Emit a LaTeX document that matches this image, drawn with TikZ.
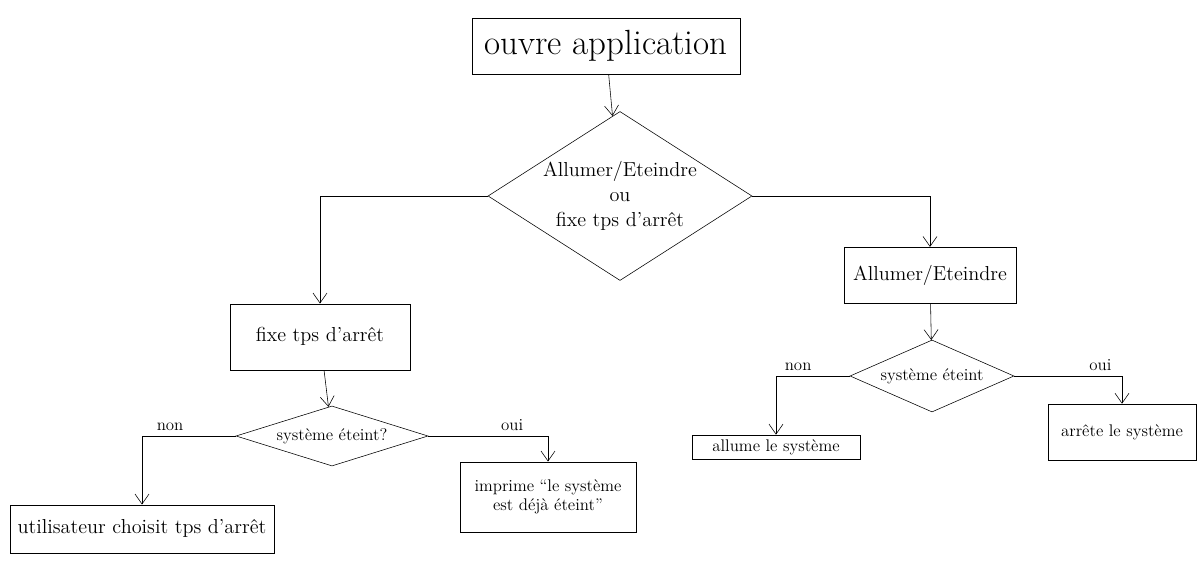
\documentclass[tikz,border=0pt]{standalone}
\usetikzlibrary{shapes.geometric, arrows.meta}
\begin{document}
\begin{tikzpicture}[>={Straight Barb[length=2.5mm, width=3.5mm]}]
				\useasboundingbox (0,0) rectangle (30.1,-14.125);

				% Start
				\node[draw, rectangle, minimum width=6.7cm, minimum height=1.4cm, font=\Huge] (app) at (15.15,-1.15) {ouvre application};

				% First choice
				\node[draw, diamond, aspect=1.55, minimum width=6.6cm, minimum height=4.2cm, inner sep=0pt, align=center, font=\Large] (choice) at (15.5,-4.9) {Allumer/Eteindre\\ou\\fixe tps d'arrêt};

				% Left branch
				\node[draw, rectangle, minimum width=4.5cm, minimum height=1.65cm, font=\Large] (fixe) at (8,-8.42) {fixe tps d'arrêt};
				\node[draw, diamond, aspect=3.2, minimum width=4.8cm, minimum height=1.5cm, inner sep=0pt, font=\large] (test1) at (8.3,-10.9) {système éteint?};
				\node[draw, rectangle, minimum width=6.6cm, minimum height=1.2cm, font=\Large] (user) at (3.55,-13.22) {utilisateur choisit tps d'arrêt};
				\node[draw, rectangle, minimum width=4.4cm, minimum height=1.75cm, align=center, font=\large] (print) at (13.7,-12.42) {imprime ``le système\\est déjà éteint''};

				% Right branch
				\node[draw, rectangle, minimum width=4.3cm, minimum height=1.4cm, font=\Large] (onoff) at (23.25,-6.88) {Allumer/Eteindre};
				\node[draw, diamond, aspect=2.3, minimum width=4.1cm, minimum height=1.8cm, inner sep=0pt, font=\large] (test2) at (23.3,-9.4) {système éteint};
				\node[draw, rectangle, minimum width=4.2cm, minimum height=0.6cm, font=\large] (on) at (19.4,-11.18) {allume le système};
				\node[draw, rectangle, minimum width=3.7cm, minimum height=1.4cm, font=\large] (off) at (28.05,-10.8) {arrête le système};

				% Connections
				\draw[->] (app) -- (choice);
				\draw[->] (choice.west) -| (fixe.north);
				\draw[->] (choice.east) -| (onoff.north);
				\draw[->] (fixe) -- (test1);
				\draw[->] (test1.west) -| node[pos=0.35, above, font=\large] {non} (user.north);
				\draw[->] (test1.east) -| node[pos=0.35, above, font=\large] {oui} (print.north);
				\draw[->] (onoff) -- (test2);
				\draw[->] (test2.west) -| node[pos=0.35, above, font=\large] {non} (on.north);
				\draw[->] (test2.east) -| node[pos=0.4, above, font=\large] {oui} (off.north);
			\end{tikzpicture}
\end{document}
